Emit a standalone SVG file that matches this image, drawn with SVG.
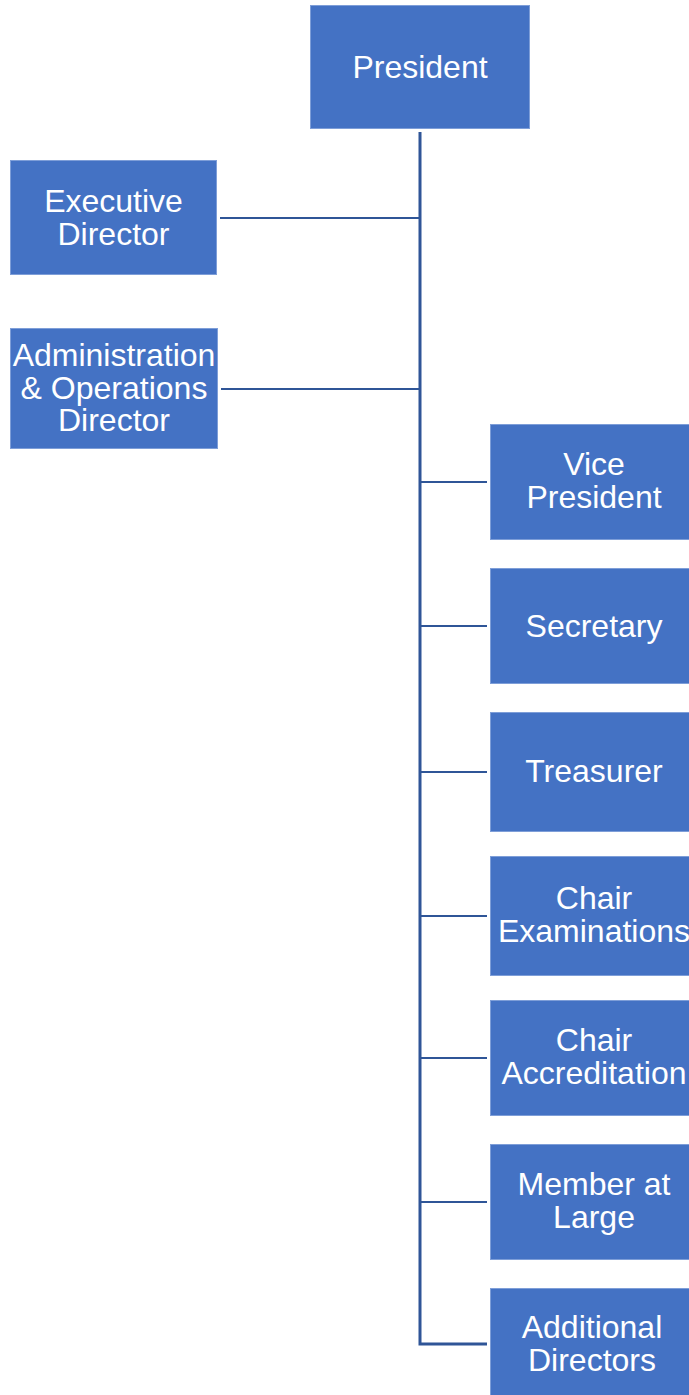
<svg xmlns="http://www.w3.org/2000/svg" width="689" height="1395" viewBox="0 0 689 1395">
<style>
.box{fill:#4472C4;stroke:#7E9ED8;stroke-width:1}
.t{font-family:"Liberation Sans",Arial,sans-serif;font-size:32px;fill:#FFFFFF;text-anchor:middle}
.c{stroke:#2F5597;stroke-width:2;fill:none}
.trunk{stroke:#2F5597;stroke-width:3;fill:none}
</style>
<rect width="689" height="1395" fill="#FFFFFF"/>
<g id="connectors">
<path class="trunk" d="M420 132 V1344 H487"/>
<path class="c" d="M220 218 H420"/>
<path class="c" d="M221 389 H420"/>
<path class="c" d="M420 482 H487"/>
<path class="c" d="M420 626 H487"/>
<path class="c" d="M420 772 H487"/>
<path class="c" d="M420 916 H487"/>
<path class="c" d="M420 1058 H487"/>
<path class="c" d="M420 1202 H487"/>
</g>
<g id="president"><rect class="box" x="310.5" y="5.5" width="219" height="123"/><text class="t" x="420" y="78">President</text></g>
<g id="executive-director"><rect class="box" x="10.5" y="160.5" width="206" height="114"/><text class="t" x="113.5" y="212">Executive</text><text class="t" x="113.5" y="245">Director</text></g>
<g id="admin-ops-director"><rect class="box" x="10.5" y="328.5" width="207" height="120"/><text class="t" x="114" y="366">Administration</text><text class="t" x="114" y="399">&amp; Operations</text><text class="t" x="114" y="431">Director</text></g>
<g id="vice-president"><rect class="box" x="490.5" y="424.5" width="208" height="115"/><text class="t" x="594" y="475">Vice</text><text class="t" x="594" y="508">President</text></g>
<g id="secretary"><rect class="box" x="490.5" y="568.5" width="208" height="115"/><text class="t" x="594" y="637">Secretary</text></g>
<g id="treasurer"><rect class="box" x="490.5" y="712.5" width="208" height="119"/><text class="t" x="594" y="782">Treasurer</text></g>
<g id="chair-examinations"><rect class="box" x="490.5" y="856.5" width="208" height="119"/><text class="t" x="594" y="909">Chair</text><text class="t" x="594" y="942">Examinations</text></g>
<g id="chair-accreditation"><rect class="box" x="490.5" y="1000.5" width="208" height="115"/><text class="t" x="594" y="1051">Chair</text><text class="t" x="594" y="1084">Accreditation</text></g>
<g id="member-at-large"><rect class="box" x="490.5" y="1144.5" width="208" height="115"/><text class="t" x="594" y="1195">Member at</text><text class="t" x="594" y="1228">Large</text></g>
<g id="additional-directors"><rect class="box" x="490.5" y="1288.5" width="208" height="116"/><text class="t" x="592" y="1338">Additional</text><text class="t" x="592" y="1371">Directors</text></g>
</svg>
